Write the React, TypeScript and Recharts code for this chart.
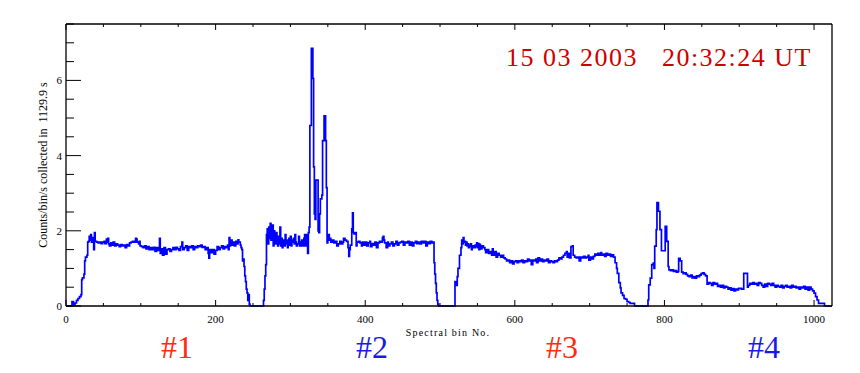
import { LineChart, Line, XAxis, YAxis } from 'recharts'

// spectrum of the four detector segments: [spectral bin, counts/bin/s]
const SEG1: [number, number][] = [
  [0, 0], [8, 0.12], [10, 0.02], [12, 0.08], [14, 0.15], [16, 0.2], [18, 0.25], [20, 0.3], [21, 0.7], [22, 0.75],
  [24, 0.85], [25, 1.2], [26, 1.3], [28, 1.35], [29, 1.7], [30, 1.72], [31, 1.85], [32, 1.75], [33, 1.9], [34, 1.7],
  [35, 1.82], [36, 1.78], [37, 1.5], [38, 1.95], [39, 1.72], [41, 1.7], [43, 1.68], [45, 1.7], [47, 1.66], [49, 1.7],
  [51, 1.72], [52, 1.66], [54, 1.78], [55, 1.7], [56, 1.8], [57, 1.65], [58, 1.6], [60, 1.68], [62, 1.62], [63, 1.7],
  [65, 1.6], [67, 1.65], [69, 1.62], [71, 1.58], [73, 1.63], [75, 1.6], [77, 1.62], [79, 1.55], [81, 1.63], [83, 1.6],
  [85, 1.68], [87, 1.7], [89, 1.72], [91, 1.7], [93, 1.8], [94, 1.78], [95, 1.7], [97, 1.65], [98, 1.72], [99, 1.6],
  [101, 1.58], [103, 1.55], [105, 1.6], [107, 1.52], [109, 1.58], [111, 1.5], [113, 1.55], [115, 1.5], [117, 1.56],
  [119, 1.45], [121, 1.55], [123, 1.48], [125, 1.8], [126, 1.4], [127, 1.52], [129, 1.35], [131, 1.55], [133, 1.38],
  [135, 1.5], [137, 1.52], [139, 1.45], [141, 1.5], [143, 1.55], [145, 1.5], [147, 1.56], [149, 1.52], [151, 1.48],
  [153, 1.58], [155, 1.7], [156, 1.5], [158, 1.55], [160, 1.6], [162, 1.48], [164, 1.58], [166, 1.55], [168, 1.6],
  [170, 1.5], [172, 1.58], [174, 1.55], [176, 1.6], [178, 1.58], [180, 1.62], [182, 1.56], [184, 1.58], [186, 1.5],
  [188, 1.55], [190, 1.4], [191, 1.27], [192, 1.5], [194, 1.42], [196, 1.5], [198, 1.38], [200, 1.48], [202, 1.58],
  [204, 1.5], [206, 1.55], [208, 1.6], [210, 1.52], [212, 1.58], [214, 1.55], [216, 1.62], [217, 1.5], [218, 1.82],
  [219, 1.6], [220, 1.75], [222, 1.62], [223, 1.7], [225, 1.6], [227, 1.72], [229, 1.65], [230, 1.76], [231, 1.7],
  [233, 1.62], [234, 1.55], [235, 1.5], [236, 1.2], [237, 1.25], [238, 1.05], [239, 0.8], [240, 0.65], [241, 0.45],
  [242, 0.35], [243, 0.15], [244, 0.3], [245, 0.05], [246, 0],
]

const SEG2: [number, number][] = [
  [262, 0], [264, 0.15], [265, 0.45], [266, 0.8], [267, 1.1], [268, 1.9], [269, 2.05], [270, 1.65], [271, 2.1],
  [272, 1.8], [273, 2.2], [274, 1.75], [275, 1.9], [276, 2.15], [277, 1.6], [278, 2.0], [279, 1.85], [280, 1.65],
  [281, 1.95], [282, 1.8], [283, 1.6], [284, 1.85], [285, 1.65], [286, 2.1], [287, 1.6], [288, 1.8], [289, 1.55],
  [290, 1.75], [292, 1.6], [293, 1.9], [294, 1.65], [295, 1.75], [296, 1.55], [297, 1.7], [298, 1.8], [299, 1.62],
  [300, 1.85], [301, 1.6], [302, 1.75], [303, 1.7], [304, 1.8], [305, 1.65], [306, 1.9], [307, 1.7], [308, 1.6],
  [309, 1.65], [311, 1.85], [312, 1.6], [313, 1.7], [314, 1.6], [315, 1.75], [317, 1.6], [318, 1.8], [319, 1.9],
  [320, 1.6], [321, 1.85], [322, 1.9], [323, 1.4], [324, 1.95], [325, 2.1], [326, 4.8], [328, 6.85], [330, 6.05],
  [331, 3.7], [332, 2.45], [333, 2.3], [334, 3.35], [337, 2.0], [338, 1.95], [339, 2.45], [340, 2.85], [342, 2.95],
  [343, 4.4], [345, 5.06], [347, 4.4], [348, 3.15], [349, 1.68], [350, 1.85], [351, 1.9], [352, 1.75], [353, 1.8],
  [354, 1.7], [356, 1.75], [358, 1.68], [360, 1.72], [362, 1.6], [364, 1.65], [366, 1.72], [368, 1.65], [370, 1.7],
  [371, 1.8], [373, 1.75], [375, 1.72], [377, 1.55], [378, 1.32], [379, 1.5], [380, 1.62], [382, 2.05], [383, 2.48],
  [384, 1.95], [385, 1.92], [387, 1.95], [388, 1.6], [389, 1.7], [391, 1.72], [393, 1.68], [395, 1.6], [396, 1.7],
  [398, 1.62], [400, 1.7], [402, 1.6], [404, 1.68], [406, 1.72], [407, 1.58], [409, 1.66], [411, 1.62], [413, 1.7],
  [415, 1.55], [417, 1.68], [419, 1.72], [421, 1.7], [423, 1.82], [424, 1.85], [425, 1.75], [426, 1.68], [428, 1.55],
  [430, 1.7], [431, 1.6], [433, 1.65], [435, 1.7], [437, 1.6], [439, 1.65], [441, 1.72], [443, 1.62], [445, 1.68],
  [447, 1.7], [449, 1.72], [451, 1.62], [453, 1.7], [455, 1.68], [457, 1.72], [459, 1.62], [461, 1.7], [463, 1.6],
  [465, 1.68], [467, 1.72], [469, 1.66], [471, 1.7], [473, 1.65], [475, 1.72], [477, 1.68], [479, 1.72], [481, 1.6],
  [483, 1.7], [485, 1.66], [487, 1.72], [489, 1.68], [491, 1.7], [492, 1.15], [493, 0.85], [494, 0.6], [495, 0.35],
  [496, 0.15], [497, 0.05], [498, 0],
]

const SEG3: [number, number][] = [
  [519, 0], [520, 0.65], [521, 0.55], [523, 0.78], [524, 1.0], [526, 1.35], [528, 1.55], [529, 1.75], [530, 1.65],
  [531, 1.82], [532, 1.7], [533, 1.72], [534, 1.62], [535, 1.7], [536, 1.6], [537, 1.65], [538, 1.55], [539, 1.62],
  [540, 1.58], [541, 1.65], [542, 1.5], [543, 1.6], [545, 1.55], [547, 1.62], [548, 1.58], [549, 1.68], [550, 1.55],
  [551, 1.66], [552, 1.5], [553, 1.64], [554, 1.52], [556, 1.6], [558, 1.55], [560, 1.5], [561, 1.42], [563, 1.5],
  [565, 1.4], [567, 1.45], [569, 1.35], [570, 1.52], [571, 1.35], [573, 1.45], [575, 1.3], [577, 1.4], [579, 1.35],
  [581, 1.3], [583, 1.35], [585, 1.28], [587, 1.25], [589, 1.2], [591, 1.22], [593, 1.15], [595, 1.2], [597, 1.12],
  [599, 1.18], [601, 1.2], [603, 1.15], [605, 1.2], [607, 1.18], [609, 1.22], [611, 1.15], [613, 1.2], [615, 1.18],
  [617, 1.25], [619, 1.2], [621, 1.22], [622, 1.1], [624, 1.22], [626, 1.2], [628, 1.25], [629, 1.15], [631, 1.28],
  [633, 1.2], [635, 1.25], [637, 1.18], [639, 1.22], [641, 1.2], [643, 1.25], [645, 1.15], [647, 1.2], [649, 1.18],
  [651, 1.15], [653, 1.2], [655, 1.18], [657, 1.22], [659, 1.28], [661, 1.25], [663, 1.3], [665, 1.35], [667, 1.4],
  [669, 1.45], [670, 1.3], [672, 1.4], [673, 1.28], [675, 1.58], [677, 1.6], [678, 1.35], [680, 1.3], [682, 1.28],
  [684, 1.3], [686, 1.2], [688, 1.3], [690, 1.28], [692, 1.32], [694, 1.28], [696, 1.3], [698, 1.35], [699, 1.22],
  [701, 1.3], [703, 1.25], [705, 1.32], [707, 1.38], [709, 1.35], [711, 1.4], [713, 1.35], [715, 1.42], [716, 1.35],
  [718, 1.38], [720, 1.32], [722, 1.4], [724, 1.35], [726, 1.38], [728, 1.32], [730, 1.36], [732, 1.3], [734, 1.15],
  [736, 1.0], [737, 0.87], [739, 0.62], [741, 0.48], [742, 0.35], [744, 0.28], [746, 0.2], [748, 0.18], [750, 0.12],
  [752, 0.1], [754, 0.07], [758, 0.07], [760, 0],
]

const SEG4: [number, number][] = [
  [777, 0], [778, 0.16], [779, 0.56], [781, 0.74], [783, 1.1], [785, 1.14], [786, 1.0], [787, 1.59], [789, 2.03],
  [790, 2.75], [792, 2.52], [794, 2.03], [796, 1.47], [801, 2.12], [803, 1.72], [805, 1.05], [806, 0.96], [808, 0.94],
  [810, 0.96], [812, 0.92], [814, 0.94], [816, 0.9], [818, 0.92], [819, 1.27], [821, 1.2], [823, 0.9], [825, 0.86],
  [827, 0.88], [829, 0.84], [831, 0.8], [833, 0.78], [835, 0.82], [837, 0.75], [839, 0.78], [841, 0.74], [843, 0.8],
  [845, 0.78], [847, 0.82], [849, 0.86], [851, 0.88], [853, 0.84], [855, 0.8], [857, 0.58], [859, 0.62], [861, 0.6],
  [863, 0.55], [865, 0.62], [867, 0.58], [869, 0.6], [871, 0.52], [873, 0.55], [875, 0.5], [877, 0.55], [879, 0.48],
  [881, 0.52], [883, 0.5], [885, 0.45], [887, 0.48], [889, 0.42], [891, 0.46], [893, 0.4], [895, 0.45], [897, 0.43],
  [899, 0.47], [903, 0.45], [906, 0.87], [911, 0.5], [912, 0.55], [914, 0.6], [916, 0.58], [918, 0.62], [920, 0.58],
  [922, 0.6], [924, 0.55], [926, 0.62], [928, 0.6], [930, 0.55], [932, 0.5], [934, 0.58], [936, 0.52], [938, 0.6],
  [940, 0.58], [942, 0.55], [944, 0.6], [946, 0.55], [948, 0.5], [950, 0.55], [952, 0.52], [954, 0.5], [956, 0.55],
  [958, 0.48], [960, 0.52], [962, 0.55], [964, 0.5], [966, 0.52], [968, 0.48], [970, 0.55], [972, 0.5], [974, 0.52],
  [976, 0.48], [978, 0.5], [980, 0.45], [982, 0.5], [984, 0.48], [986, 0.52], [988, 0.45], [990, 0.5], [992, 0.42],
  [994, 0.5], [996, 0.45], [998, 0.4], [1000, 0.34], [1002, 0.25], [1004, 0.16], [1006, 0.07], [1012, 0.07],
  [1014, 0], [1024, 0],
]

const X_TICKS = [0, 50, 100, 150, 200, 250, 300, 350, 400, 450, 500, 550, 600, 650, 700, 750, 800, 850, 900, 950, 1000]
const Y_TICKS = [0, 0.5, 1, 1.5, 2, 2.5, 3, 3.5, 4, 4.5, 5, 5.5, 6, 6.5, 7, 7.5]
const SEGMENT_LABELS = [
  { text: '#1', x: 177, color: '#ff2a10' },
  { text: '#2', x: 372, color: '#1a1ae6' },
  { text: '#3', x: 562, color: '#ff2a10' },
  { text: '#4', x: 764, color: '#1a1ae6' },
]
const TITLE = '15 03 2003   20:32:24 UT'

const FONT = '"Liberation Serif", "DejaVu Serif", serif'

const data = [...SEG1, ...SEG2, ...SEG3, ...SEG4].map(([b, c]) => ({ b, c }))

function BottomTick({ x, y, payload }: any) {
  const major = payload.value % 200 === 0
  return (
    <g>
      <line x1={x} y1={y} x2={x} y2={y - (major ? 6 : 3)} stroke="#000" />
      {major && (
        <text x={x} y={y + 17} textAnchor="middle" fontSize={11} fontFamily={FONT} fill="#000">
          {payload.value}
        </text>
      )}
    </g>
  )
}

function TopTick({ x, y, payload }: any) {
  const major = payload.value % 200 === 0
  return <line x1={x} y1={y} x2={x} y2={y + (major ? 6 : 3)} stroke="#000" />
}

function LeftTick({ x, y, payload }: any) {
  const major = payload.value % 2 === 0
  return (
    <g>
      <line x1={x} y1={y} x2={x + (major ? 15 : 8)} y2={y} stroke="#000" />
      {major && (
        <text x={x - 4} y={y + 4} textAnchor="end" fontSize={11} fontFamily={FONT} fill="#000">
          {payload.value}
        </text>
      )}
    </g>
  )
}

function RightTick({ x, y, payload }: any) {
  const major = payload.value % 2 === 0
  return <line x1={x} y1={y} x2={x - (major ? 15 : 8)} y2={y} stroke="#000" />
}

const axisLine = { stroke: '#000', strokeWidth: 1.3 }

export default function App() {
  return (
    <div style={{ position: 'absolute', left: 0, top: 0, width: 860, height: 373, background: '#fff' }}>
      <LineChart width={860} height={373} data={data} margin={{ top: 23, right: 27, bottom: 66, left: 65 }}>
        <XAxis dataKey="b" type="number" domain={[0, 1024]} ticks={X_TICKS} interval={0}
          height={1} tickSize={0} tickMargin={0} tickLine={false} tick={<BottomTick />} axisLine={axisLine} />
        <XAxis xAxisId="top" orientation="top" dataKey="b" type="number" domain={[0, 1024]} ticks={X_TICKS}
          interval={0} height={1} tickSize={0} tickMargin={0} tickLine={false} tick={<TopTick />}
          axisLine={axisLine} />
        <YAxis domain={[0, 7.5]} ticks={Y_TICKS} interval={0} width={1} tickSize={0} tickMargin={0}
          tickLine={false} tick={<LeftTick />} axisLine={axisLine} />
        <YAxis yAxisId="right" orientation="right" domain={[0, 7.5]} ticks={Y_TICKS} interval={0} width={1}
          tickSize={0} tickMargin={0} tickLine={false} tick={<RightTick />} axisLine={axisLine} />
        <Line type="stepAfter" dataKey="c" stroke="#0000ff" strokeWidth={1.7} dot={false}
          isAnimationActive={false} />
      </LineChart>

      <svg width={860} height={373} style={{ position: 'absolute', left: 0, top: 0, pointerEvents: 'none' }}>
        <text x={812} y={66} textAnchor="end" fontSize={26} fontFamily={FONT} fill="#cc0000"
          letterSpacing={1.5} style={{ whiteSpace: 'pre' }}>
          {TITLE}
        </text>
        <text x={47} y={165} transform="rotate(-90 47 165)" textAnchor="middle" fontSize={12}
          fontFamily={FONT} fill="#000" style={{ whiteSpace: 'pre' }}>
          Counts/bin/s collected in  1129.9 s
        </text>
        <text x={448} y={336} textAnchor="middle" fontSize={10} fontFamily={FONT} fill="#000" letterSpacing={1.2}>
          Spectral bin No.
        </text>
        {SEGMENT_LABELS.map(l => (
          <text key={l.text} x={l.x} y={358} textAnchor="middle" fontSize={32} fontFamily={FONT} fill={l.color}>
            {l.text}
          </text>
        ))}
      </svg>
    </div>
  )
}
